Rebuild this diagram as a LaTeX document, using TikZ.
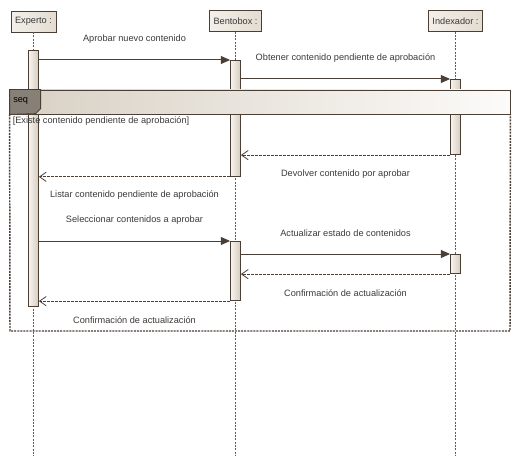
\documentclass[tikz,border=0pt]{standalone}
\usepackage{fontspec}
\setmainfont{Liberation Sans}
\usepackage{tikz}
\usetikzlibrary{arrows.meta, positioning}
\definecolor{umlline}{HTML}{4B3E35}
\definecolor{umltext}{HTML}{3A3A3A}
\definecolor{headlight}{HTML}{F3EFE9}
\definecolor{headdark}{HTML}{E4DCD1}
\definecolor{actlight}{HTML}{F7F4F0}
\definecolor{actdark}{HTML}{D6CCBF}
\definecolor{bandleft}{HTML}{D8D0C4}
\definecolor{bandright}{HTML}{FCFBF9}
\definecolor{tabfill}{HTML}{878077}
\tikzstyle{head} = [rectangle, 
draw=umlline, 
left color=headlight, 
right color=headdark, 
minimum height=15.5pt, 
inner xsep=3pt, 
text=umltext, 
font=\fontsize{6.9}{8}\selectfont]
\tikzstyle{act} = [rectangle, 
draw=umlline, 
line width=0.6pt, 
left color=actlight, 
right color=actdark, 
minimum width=7.5pt, 
inner sep=0pt, 
anchor=north]
\tikzstyle{band} = [rectangle, 
draw=umlline, 
line width=0.6pt, 
left color=bandleft, 
right color=bandright, 
minimum width=375pt, 
minimum height=18pt]
\tikzstyle{msg} = [text=umltext, font=\fontsize{6.9}{8}\selectfont, inner sep=0pt]
\tikzstyle{lifeline} = [draw=umlline!85, line width=0.5pt, dash pattern=on 1.5pt off 1pt]
\tikzstyle{fragline} = [draw=umlline, line width=1.1pt, dash pattern=on 1.5pt off 0.8pt]
\tikzstyle{call} = [draw=umlline, line width=0.75pt, -{Triangle[length=7pt,width=6pt]}]
\tikzstyle{reply} = [draw=umlline, line width=0.6pt, dash pattern=on 2pt off 1pt, -{Straight Barb[length=5pt,width=7pt]}]

\begin{document}
\begin{tikzpicture}[x=0.75pt, y=-0.75pt]
\useasboundingbox (0,0) rectangle (521,467);

% participants
\node (exp) [head] at (33.5,21.5) {Experto :};
\node (bento) [head] at (235.5,21) {Bentobox :};
\node (idx) [head] at (455.5,21) {Indexador :};
\coordinate (expEnd) at (33.5,456);
\coordinate (bentoEnd) at (235.5,456);
\coordinate (idxEnd) at (455.5,456);
\draw[lifeline] (exp.south) -- (expEnd);
\draw[lifeline] (bento.south) -- (bentoEnd);
\draw[lifeline] (idx.south) -- (idxEnd);

% activations
\node (actE) [act, minimum height=192pt] at (33.5,50) {};
\node (actB1) [act, minimum height=87pt] at (235.5,60) {};
\node (actI1) [act, minimum height=56.5pt] at (455.5,79) {};
\node (actB2) [act, minimum height=44.5pt] at (235.5,241) {};
\node (actI2) [act, minimum height=14.5pt] at (455.5,254) {};

% combined fragment
\node (seqband) [band] at (260,102) {};
\filldraw[fill=tabfill, draw=umlline, line width=0.6pt] (seqband.north west) -- ++(31,0) -- ++(0,19) -- ++(-5,5) -- (seqband.south west) -- cycle;
\node (seqname) [msg, anchor=west, text=black] at (13,101) {seq};
\coordinate (fragSW) at (10,331);
\coordinate (fragSE) at (510,331);
\draw[fragline] (seqband.south west) -- (fragSW) -- (fragSE) -- (seqband.south east);
\node (guard) [msg, anchor=west] at (12.5,121) {[Existe contenido pendiente de aprobación]};

% messages
\draw[call] (actE.east |- actB1.north) -- (actB1.north west) node[msg, midway, yshift=15.5pt] {Aprobar nuevo contenido};
\draw[call] (actB1.east |- actI1.north) -- (actI1.north west) node[msg, midway, yshift=16pt] {Obtener contenido pendiente de aprobación};
\draw[reply] (actI1.south west) -- (actI1.south west -| actB1.east) node[msg, midway, yshift=-14.5pt] {Devolver contenido por aprobar};
\draw[reply] (actB1.south west) -- (actB1.south west -| actE.east) node[msg, midway, yshift=-14pt] {Listar contenido pendiente de aprobación};
\draw[call] (actE.east |- actB2.north) -- (actB2.north west) node[msg, midway, yshift=15.5pt] {Seleccionar contenidos a aprobar};
\draw[call] (actB2.east |- actI2.north) -- (actI2.north west) node[msg, midway, yshift=15.5pt] {Actualizar estado de contenidos};
\draw[reply] (actI2.south west) -- (actI2.south west -| actB2.east) node[msg, midway, yshift=-14pt] {Confirmación de actualización};
\draw[reply] (actB2.south west) -- (actB2.south west -| actE.east) node[msg, midway, yshift=-14pt] {Confirmación de actualización};

\end{tikzpicture}
\end{document}
